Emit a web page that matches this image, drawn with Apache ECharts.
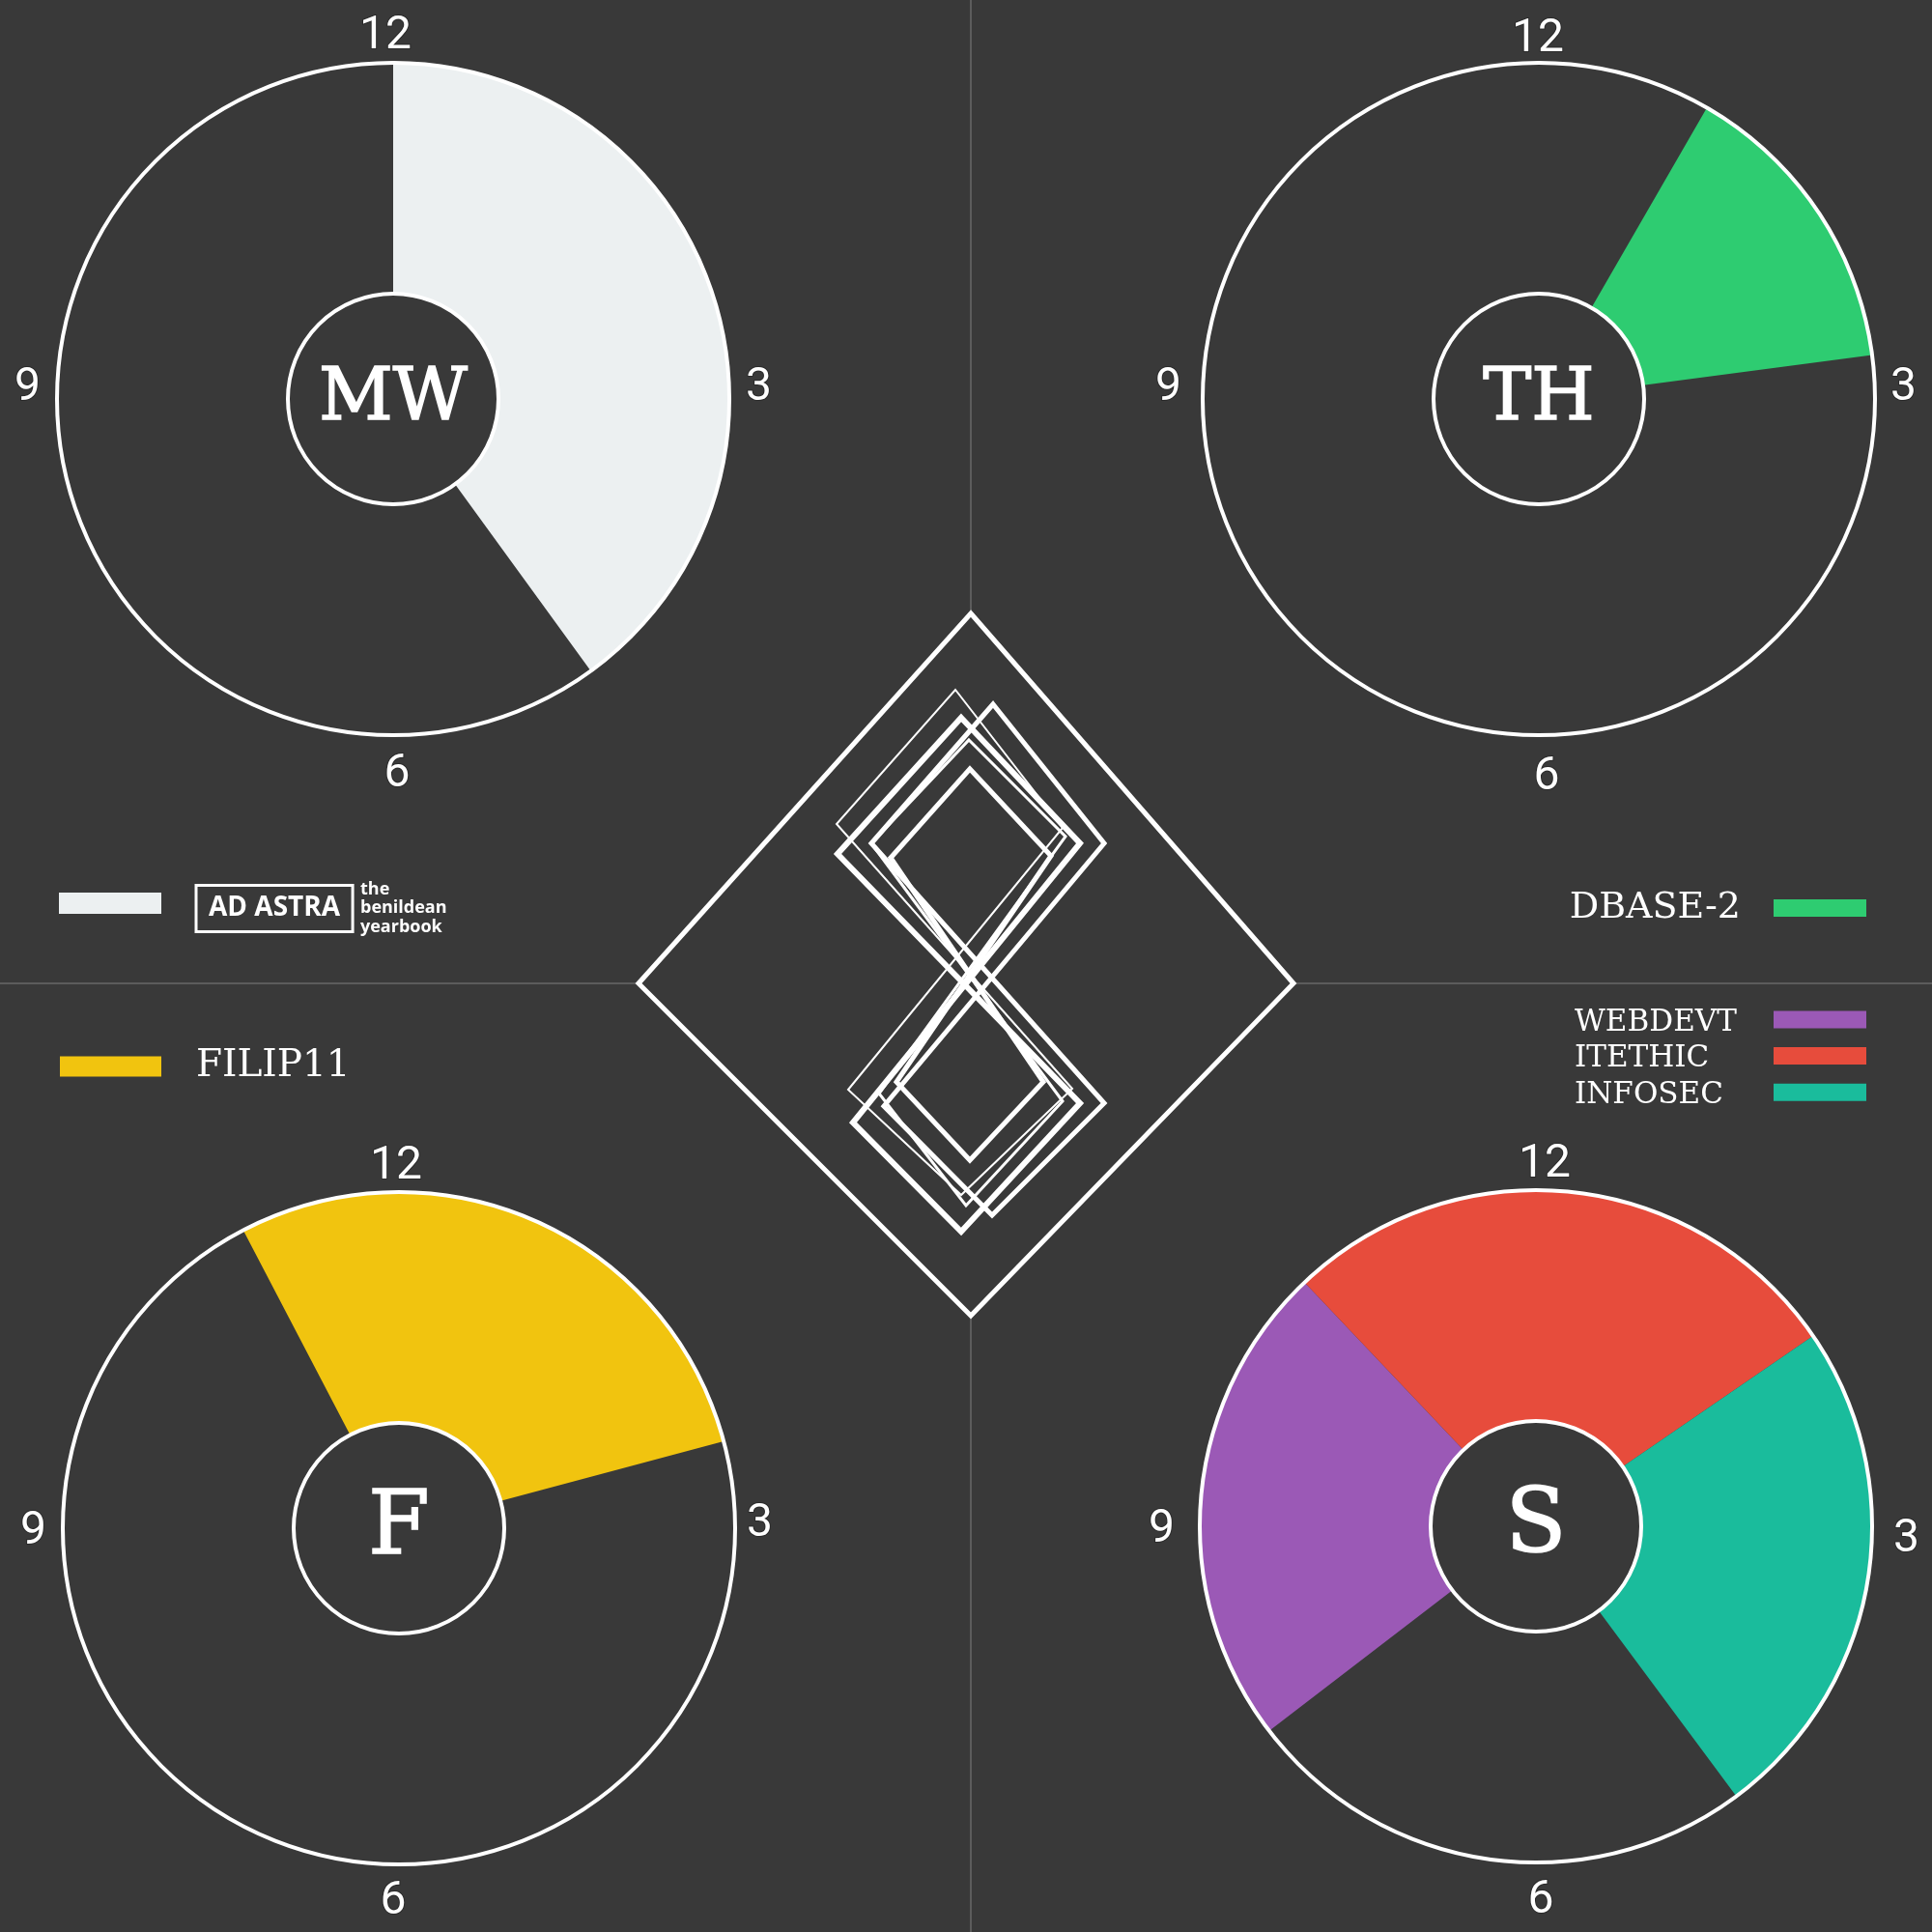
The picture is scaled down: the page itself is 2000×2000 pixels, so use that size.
<!DOCTYPE html>
<html>
<head>
<meta charset="utf-8">
<script src="https://cdn.jsdelivr.net/npm/echarts@6/dist/echarts.min.js"></script>
<style>
html,body{margin:0;padding:0;background:#393939;}
#c{width:2000px;height:2000px;}
</style>
</head>
<body>
<div id="c"></div>
<script>
// ---------------- data ----------------
const days = ['MW', 'TH', 'F', 'S'];
const subjects = ['AD ASTRA', 'DBASE-2', 'FILIP11', 'WEBDEVT', 'ITETHIC', 'INFOSEC'];
const subjectDay = ['MW', 'TH', 'F', 'S', 'S', 'S'];
const startHour = [0, 1, 11.08, 7.75, 10.55, 1.85];
const endHour = [4.8, 2.75, 2.5, 10.55, 1.85, 4.78];
const subjectColors = ['#ecf0f1', '#2ecc71', '#f1c40f', '#9b59b6', '#e74c3c', '#1abc9c'];
const clockMin = 0;
const clockMax = 12;
const clockStep = 3;

// ---------------- layout ----------------
const BG = '#393939';
const CENTERS = { MW: [407, 413], TH: [1593, 413], F: [413, 1582], S: [1590, 1580] };
const DAY_FONT = { MW: 75, TH: 75, F: 92, S: 92 };
const R_IN = 109, R_OUT = 348;
const SERIF = '"DejaVu Serif", serif';
// hand placement nudges of the clock numbers (screen px, from the axis anchor) [top, right, bottom, left]
const LABEL_NUDGE = {
  MW: [[-8, -3], [17, -11], [4, 17], [-17, -11]],
  TH: [[-1, 0], [16, -11], [8, 20], [-22, -11]],
  F:  [[-3, -2], [12, -4], [-6, 15], [-17, 4]],
  S:  [[9, -2], [22, 14], [5, 16], [-26, 4]]
};

const dur = i => (((endHour[i] - startHour[i]) % 12) + 12) % 12;

const series = days.map(day => {
  const idx = subjects.map((s, i) => i).filter(i => subjectDay[i] === day);
  const first = startHour[idx[0]];
  let cursor = first;
  const data = [];
  idx.forEach(i => {
    const gap = (((startHour[i] - cursor) % 12) + 12) % 12;
    if (gap > 1e-6) data.push({ name: '', value: gap, itemStyle: { color: 'rgba(0,0,0,0)' } });
    data.push({ name: subjects[i], value: dur(i), itemStyle: { color: subjectColors[i] } });
    cursor = endHour[i];
  });
  const used = data.reduce((a, d) => a + d.value, 0);
  if (12 - used > 1e-6) data.push({ name: '', value: 12 - used, itemStyle: { color: 'rgba(0,0,0,0)' } });
  return {
    type: 'pie',
    center: CENTERS[day],
    radius: [R_IN, R_OUT],
    startAngle: 90 - first * 30,
    clockwise: true,
    data: data,
    label: { show: false },
    labelLine: { show: false },
    itemStyle: { borderWidth: 0 },
    silent: true,
    emphasis: { disabled: true },
    z: 2
  };
});

function nudgeRich(day) {
  const n = LABEL_NUDGE[day];
  const base = { color: '#ffffff', fontSize: 48, fontFamily: 'Roboto, "Liberation Sans", sans-serif',
    textBorderColor: '#2a2a2a', textBorderWidth: 2 };
  const mk = p => Object.assign({ padding: p }, base);
  const t = n[0], r = n[1], b = n[2], l = n[3];
  return {
    t: mk([0, t[0] < 0 ? -2 * t[0] : 0, Math.max(0, -t[1]), t[0] > 0 ? 2 * t[0] : 0]),
    r: mk([r[1] > 0 ? 2 * r[1] : 0, 0, r[1] < 0 ? -2 * r[1] : 0, Math.max(0, r[0])]),
    b: mk([Math.max(0, b[1]), b[0] < 0 ? -2 * b[0] : 0, 0, b[0] > 0 ? 2 * b[0] : 0]),
    l: mk([l[1] > 0 ? 2 * l[1] : 0, Math.max(0, -l[0]), l[1] < 0 ? -2 * l[1] : 0, 0])
  };
}

const polar = days.map(day => ({ center: CENTERS[day], radius: [R_IN, R_OUT] }));
const angleAxis = days.map((day, i) => ({
  polarIndex: i,
  type: 'value',
  min: clockMin,
  max: clockMax,
  interval: clockStep,
  startAngle: 90,
  clockwise: true,
  z: 5,
  axisLine: { show: true, lineStyle: { color: '#ffffff', width: 4 } },
  axisTick: { show: false },
  splitLine: { show: false },
  axisLabel: {
    show: true,
    margin: 0,
    color: '#ffffff',
    fontSize: 48,
    formatter: v => {
      const h = v % 12;
      const key = h === 0 ? 't' : h === 3 ? 'r' : h === 6 ? 'b' : 'l';
      return '{' + key + '|' + (h === 0 ? '12' : String(v)) + '}';
    },
    rich: nudgeRich(day)
  }
}));
const radiusAxis = days.map((day, i) => ({ polarIndex: i, type: 'value', min: 0, max: 1, show: false }));

const legendText = { color: '#ffffff', fontFamily: SERIF };
const legend = [
  {
    data: ['AD ASTRA'], left: 61, top: 915, padding: 0, icon: 'rect', itemWidth: 106, itemHeight: 22,
    align: 'left', selectedMode: false,
    formatter: n => '{box|' + n + '}',
    textStyle: {
      padding: [11, 0, 0, 31],
      rich: {
        box: {
          color: '#ffffff', fontFamily: '"Open Sans", sans-serif', fontWeight: 700, fontSize: 28,
          lineHeight: 36, borderColor: '#ffffff', borderWidth: 3, padding: [10, 13, 10, 13]
        }
      }
    }
  },
  {
    data: ['DBASE-2'], right: 68, top: 920, padding: 0, icon: 'rect', itemWidth: 96, itemHeight: 18,
    align: 'right', selectedMode: false,
    textStyle: Object.assign({ fontSize: 38, lineHeight: 40, padding: [0, 29, 0, 0] }, legendText)
  },
  {
    data: ['FILIP11'], left: 62, top: 1083, padding: 0, icon: 'rect', itemWidth: 105, itemHeight: 21,
    align: 'left', selectedMode: false,
    textStyle: Object.assign({ fontSize: 39, lineHeight: 42, padding: [0, 0, 0, 31] }, legendText)
  },
  {
    data: ['WEBDEVT', 'ITETHIC', 'INFOSEC'], right: 68, top: 1037, padding: 0, orient: 'vertical',
    icon: 'rect', itemWidth: 96, itemHeight: 18, itemGap: 0.6, align: 'right', selectedMode: false,
    formatter: n => '{t|' + n + '}',
    textStyle: {
      rich: { t: { color: '#ffffff', fontFamily: SERIF, fontSize: 31, lineHeight: 31, width: 201, align: 'left', padding: [6, 0, 0, 0] } }
    }
  }
];

// decorative center logo (not data)
const logoLayers = [
  { w: 2, p: [[989, 714], [1100, 857], [878, 1128], [995, 1237], [1110, 1127], [866, 853]] },
  { w: 6, p: [[995, 743], [1118, 873], [883, 1162], [995, 1275], [1118, 1142], [867, 884]] },
  { w: 5, p: [[1028, 729], [1143, 873], [915, 1145], [1027, 1258], [1143, 1142], [902, 873]] },
  { w: 3, p: [[1003, 766], [1103, 866], [910, 1132], [1000, 1248], [1100, 1140], [902, 873]] },
  { w: 5, p: [[1004, 796], [1088, 886], [928, 1120], [1004, 1201], [1080, 1120], [922, 888]] }
];

const graphic = [
  { type: 'line', z: 0, shape: { x1: 1005, y1: 0, x2: 1005, y2: 2000 }, style: { stroke: '#5c5c5c', lineWidth: 2 } },
  { type: 'line', z: 0, shape: { x1: 0, y1: 1018, x2: 2000, y2: 1018 }, style: { stroke: '#5c5c5c', lineWidth: 2 } },
  { type: 'polygon', z: 1, shape: { points: [[1005, 635], [1339, 1018], [1005, 1362], [661, 1018]] },
    style: { fill: BG, stroke: '#ffffff', lineWidth: 5, lineJoin: 'miter' } }
];
logoLayers.forEach(l => graphic.push({
  type: 'polygon', z: 2, shape: { points: l.p },
  style: { fill: null, stroke: '#ffffff', lineWidth: l.w, lineJoin: 'miter' }
}));
days.forEach(day => graphic.push({
  type: 'text', z: 10, x: CENTERS[day][0], y: CENTERS[day][1] + 2,
  style: {
    text: day, font: DAY_FONT[day] + 'px ' + SERIF, fill: '#ffffff',
    align: 'center', verticalAlign: 'middle', textAlign: 'center', textVerticalAlign: 'middle',
    stroke: '#ffffff', lineWidth: 1.6
  }
}));
graphic.push({
  type: 'text', z: 10, x: 373, y: 911,
  style: {
    text: 'the\nbenildean\nyearbook', font: '700 18px "Open Sans", sans-serif', fill: '#ffffff',
    lineHeight: 19.5, align: 'left', verticalAlign: 'top', textAlign: 'left', textVerticalAlign: 'top'
  }
});

const chart = echarts.init(document.getElementById('c'), null, { renderer: 'canvas', width: 2000, height: 2000 });
chart.setOption({
  backgroundColor: BG,
  animation: false,
  polar: polar,
  angleAxis: angleAxis,
  radiusAxis: radiusAxis,
  legend: legend,
  series: series,
  graphic: graphic
});
</script>
</body>
</html>
